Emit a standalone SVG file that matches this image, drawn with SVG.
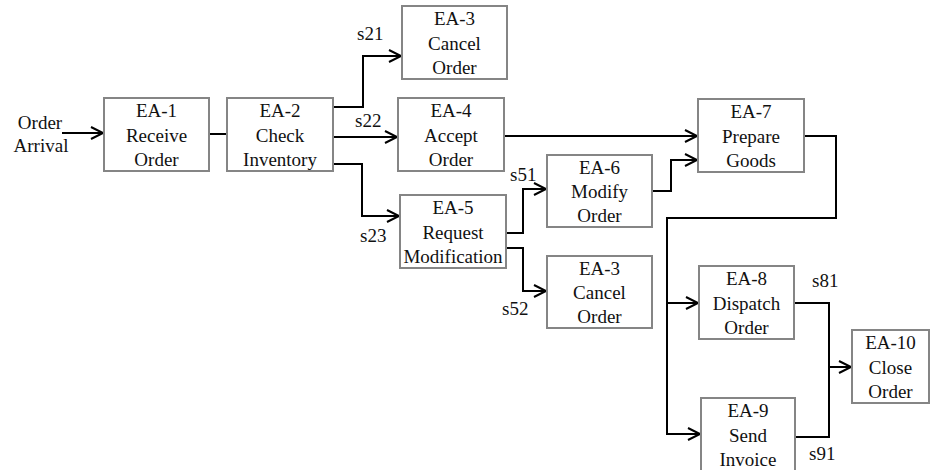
<svg xmlns="http://www.w3.org/2000/svg" width="930" height="470" viewBox="0 0 930 470">
<defs>
<style>
.box{fill:#fff;stroke:#858585;stroke-width:2}
.t{font-family:"Liberation Serif","Times New Roman",serif;font-size:19px;fill:#111;text-anchor:middle}
.lb{font-family:"Liberation Serif","Times New Roman",serif;font-size:19px;fill:#111}
.c{fill:none;stroke:#000;stroke-width:2}
</style>
<marker id="arr" markerUnits="userSpaceOnUse" markerWidth="16" markerHeight="16" refX="13" refY="7" orient="auto">
<path d="M1,1 L13,7 L1,13" fill="none" stroke="#000" stroke-width="2"/>
</marker>
</defs>
<rect width="930" height="470" fill="#fff"/>
<g id="connectors">
<path class="c" d="M62,133 H103" marker-end="url(#arr)"/>
<path class="c" d="M209,134 H227"/>
<path class="c" d="M333,107 H363 V56 H401" marker-end="url(#arr)"/>
<path class="c" d="M330,137 H397" marker-end="url(#arr)"/>
<path class="c" d="M333,164 H362 V216 H399" marker-end="url(#arr)"/>
<path class="c" d="M504,136 H697" marker-end="url(#arr)"/>
<path class="c" d="M506,233 H523 V189 H546" marker-end="url(#arr)"/>
<path class="c" d="M506,248 H523 V291 H546" marker-end="url(#arr)"/>
<path class="c" d="M652,191 H671 V160 H697" marker-end="url(#arr)"/>
<path class="c" d="M804,136 H836 V218 H667 V434 H700" marker-end="url(#arr)"/>
<path class="c" d="M667,303 H698" marker-end="url(#arr)"/>
<path class="c" d="M794,303 H829 V437 H795"/>
<path class="c" d="M829,367 H851" marker-end="url(#arr)"/>
</g>
<g id="labels">
<text class="t" x="40" y="129">Order</text>
<text class="t" x="41" y="152">Arrival</text>
<text class="lb" x="357" y="40">s21</text>
<text class="lb" x="355" y="127">s22</text>
<text class="lb" x="360" y="242">s23</text>
<text class="lb" x="510" y="181">s51</text>
<text class="lb" x="502" y="315">s52</text>
<text class="lb" x="812" y="287">s81</text>
<text class="lb" x="809" y="460">s91</text>
</g>
<g id="ea1"><rect class="box" x="104" y="98" width="105" height="73"/><text class="t" x="156.5" y="117">EA-1</text><text class="t" x="156.5" y="142">Receive</text><text class="t" x="156.5" y="166">Order</text></g>
<g id="ea2"><rect class="box" x="227" y="98" width="106" height="73"/><text class="t" x="280" y="117">EA-2</text><text class="t" x="280" y="142">Check</text><text class="t" x="280" y="166">Inventory</text></g>
<g id="ea3a"><rect class="box" x="402" y="6" width="105" height="73"/><text class="t" x="454.5" y="25">EA-3</text><text class="t" x="454.5" y="50">Cancel</text><text class="t" x="454.5" y="74">Order</text></g>
<g id="ea4"><rect class="box" x="398" y="98" width="106" height="73"/><text class="t" x="451" y="117">EA-4</text><text class="t" x="451" y="142">Accept</text><text class="t" x="451" y="166">Order</text></g>
<g id="ea5"><rect class="box" x="400" y="195" width="106" height="73"/><text class="t" x="453" y="214">EA-5</text><text class="t" x="453" y="239">Request</text><text class="t" x="453" y="263">Modification</text></g>
<g id="ea6"><rect class="box" x="547" y="155" width="105" height="72"/><text class="t" x="599.5" y="174">EA-6</text><text class="t" x="599.5" y="198">Modify</text><text class="t" x="599.5" y="222">Order</text></g>
<g id="ea3b"><rect class="box" x="547" y="256" width="105" height="72"/><text class="t" x="599.5" y="275">EA-3</text><text class="t" x="599.5" y="299">Cancel</text><text class="t" x="599.5" y="323">Order</text></g>
<g id="ea7"><rect class="box" x="698" y="99" width="106" height="73"/><text class="t" x="751" y="118">EA-7</text><text class="t" x="751" y="143">Prepare</text><text class="t" x="751" y="167">Goods</text></g>
<g id="ea8"><rect class="box" x="699" y="266" width="95" height="73"/><text class="t" x="746.5" y="285">EA-8</text><text class="t" x="746.5" y="310">Dispatch</text><text class="t" x="746.5" y="334">Order</text></g>
<g id="ea9"><rect class="box" x="701" y="398" width="94" height="73"/><text class="t" x="748" y="417">EA-9</text><text class="t" x="748" y="442">Send</text><text class="t" x="748" y="466">Invoice</text></g>
<g id="ea10"><rect class="box" x="852" y="330" width="77" height="73"/><text class="t" x="890.5" y="349">EA-10</text><text class="t" x="890.5" y="374">Close</text><text class="t" x="890.5" y="398">Order</text></g>
</svg>
